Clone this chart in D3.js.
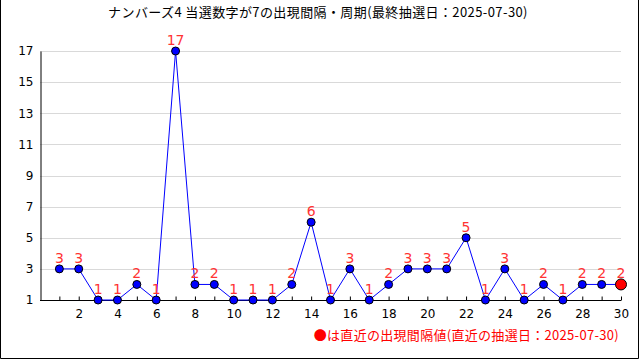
<!DOCTYPE html>
<html>
<head>
<meta charset="utf-8">
<script src="https://cdn.jsdelivr.net/npm/d3@7"></script>
<style>
  body { margin: 0; background: #fff; }
  svg { display: block; font-family: "Noto Sans CJK JP", "DejaVu Sans", sans-serif; }
</style>
</head>
<body>
<svg width="640" height="360"></svg>
<script>
var titleText = "ナンバーズ4 当選数字が7の出現間隔・周期(最終抽選日：2025-07-30)";
var legendText = "●は直近の出現間隔値(直近の抽選日：2025-07-30)";
var draws = d3.range(1, 31);
var intervals = [3, 3, 1, 1, 2, 1, 17, 2, 2, 1, 1, 1, 2, 6, 1, 3, 1, 2, 3, 3, 3, 5, 1, 3, 1, 2, 1, 2, 2, 2];
var yTicks = [1, 3, 5, 7, 9, 11, 13, 15, 17];
var xLabels = [2, 4, 6, 8, 10, 12, 14, 16, 18, 20, 22, 24, 26, 28, 30];

var data = draws.map(function(d, i){ return { n: d, v: intervals[i] } });

var svg = d3.select('svg');
var x = d3.scaleLinear().domain([0, 30]).range([40, 621]);
var y = d3.scaleLinear().domain([1, 17]).range([300, 51]);

// frame
svg.append("path")
	.attr("d", "M0.5,0 V358.5 H638.5 V0")
	.attr("fill", "none").attr("stroke", "#000");

// title
svg.append("text")
	.attr("x", 318).attr("y", 17)
	.attr("text-anchor", "middle")
	.attr("font-size", 13)
	.attr("letter-spacing", 0.4)
	.attr("fill", "#000")
	.text(titleText);

// grid
svg.append("g").selectAll("line")
	.data(yTicks.slice(1))
	.enter().append("line")
	.attr("x1", x(0)).attr("x2", x(30))
	.attr("y1", function(d){ return Math.round(y(d)) + 0.5 })
	.attr("y2", function(d){ return Math.round(y(d)) + 0.5 })
	.attr("stroke", "#d9d9d9");

// y axis
var yAxis = svg.append("g")
	.attr("transform", "translate(40.5,0)")
	.call(d3.axisLeft(y).tickValues(yTicks).tickSize(0).tickPadding(7));
yAxis.select(".domain").attr("stroke", "#000");
yAxis.selectAll("text").attr("font-size", 12).attr("fill", "#000")
	.attr("font-family", "DejaVu Sans");

// x axis
var xAxis = svg.append("g")
	.attr("transform", "translate(0,300.5)")
	.call(d3.axisBottom(x).tickValues(draws).tickSize(-4).tickPadding(9)
		.tickFormat(function(d){ return xLabels.indexOf(d) >= 0 ? d : "" }));
xAxis.select(".domain").attr("d", "M" + x(0) + ",0H" + x(30)).attr("stroke", "#000");
xAxis.selectAll("line").attr("stroke", "#000");
xAxis.selectAll("text").attr("font-size", 12).attr("fill", "#000")
	.attr("font-family", "DejaVu Sans");

// line
svg.append("path")
	.datum(data)
	.attr("fill", "none")
	.attr("stroke", "#0000ff")
	.attr("stroke-width", 1)
	.attr("d", d3.line().x(function(d){ return x(d.n) }).y(function(d){ return y(d.v) }));

// points
svg.append("g").selectAll("circle")
	.data(data)
	.enter().append("circle")
	.attr("cx", function(d){ return x(d.n) })
	.attr("cy", function(d){ return y(d.v) })
	.attr("r", function(d, i){ return i == data.length - 1 ? 5.5 : 4 })
	.attr("fill", function(d, i){ return i == data.length - 1 ? "#ff0000" : "#0000ff" })
	.attr("stroke", "#000")
	.attr("stroke-width", 1);

// value labels
svg.append("g").selectAll("text")
	.data(data)
	.enter().append("text")
	.attr("x", function(d){ return x(d.n) })
	.attr("y", function(d){ return y(d.v) - 6 })
	.attr("text-anchor", "middle")
	.attr("font-size", 14)
	.attr("font-family", "DejaVu Sans")
	.attr("fill", "#ff3333")
	.text(function(d){ return d.v });

// legend
svg.append("text")
	.attr("x", 619).attr("y", 340)
	.attr("text-anchor", "end")
	.attr("font-size", 13)
	.attr("letter-spacing", 0.3)
	.attr("fill", "#ff0000")
	.text(legendText);
</script>
</body>
</html>
